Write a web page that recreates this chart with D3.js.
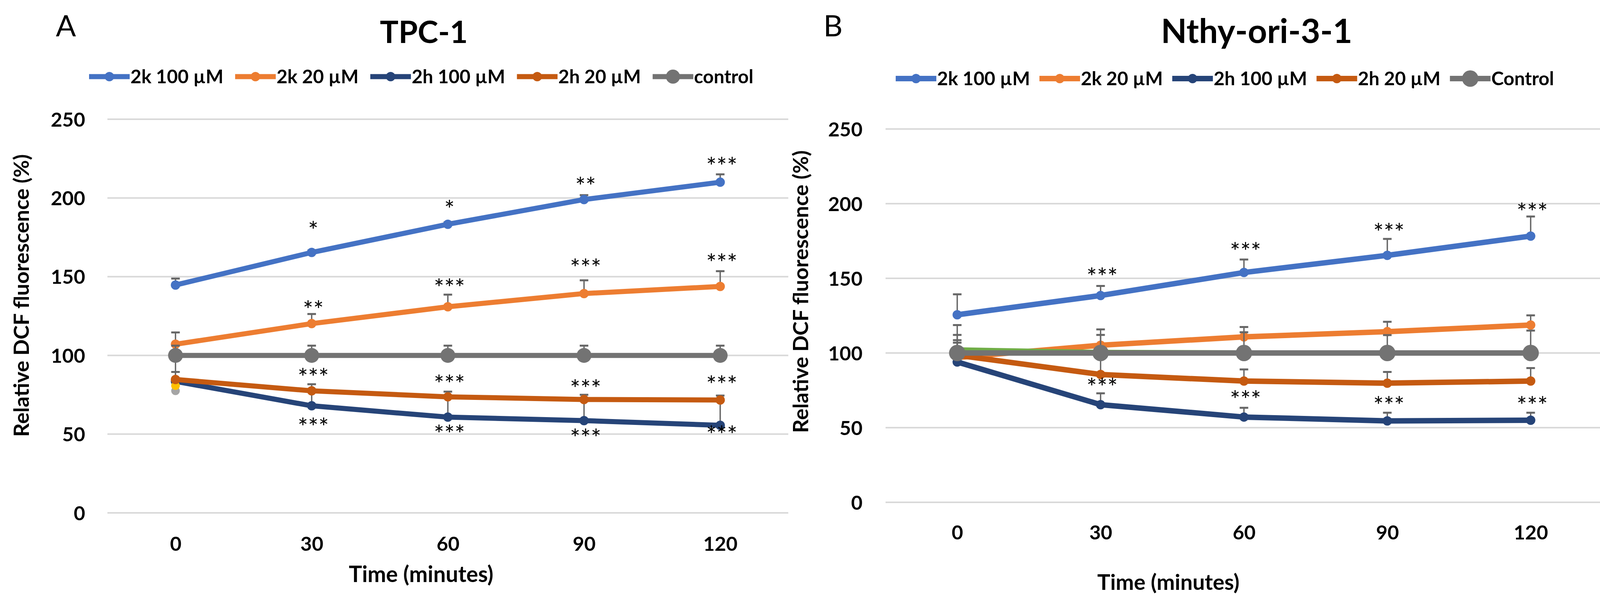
<!DOCTYPE html>
<html>
<head>
<meta charset="utf-8">
<script src="https://cdn.jsdelivr.net/npm/d3@7"></script>
<style>
  body { margin: 0; background: #fff; }
  svg { display: block; font-family: Lato, "Open Sans", sans-serif; }
</style>
</head>
<body>
<svg id="chart" width="4149" height="1540"></svg>
<script>
// ---- data ----
const times = ["0", "30", "60", "90", "120"];
const yTicks = [0, 50, 100, 150, 200, 250];
const namesA = ["2k 100 µM", "2k 20 µM", "2h 100 µM", "2h 20 µM", "control"];
const namesB = ["2k 100 µM", "2k 20 µM", "2h 100 µM", "2h 20 µM", "Control"];

// TPC-1 (mean, upper error)
const tpc2k100 = [144.7, 165.4, 183.3, 199.0, 210.0];
const tpc2k100Sd = [4.1, 1.2, 1.2, 2.8, 5.0];
const tpc2k20 = [107.1, 120.2, 130.9, 139.3, 143.8];
const tpc2k20Sd = [7.5, 6.1, 7.7, 8.4, 9.7];
const tpc2h100 = [83.5, 68.0, 60.8, 58.6, 55.6];
const tpc2h100Sd = [6.0, 10.0, 13.2, 13.9, 16.4];
const tpc2h20 = [84.7, 77.5, 73.7, 72.0, 71.7];
const tpc2h20Sd = [12.3, 4.2, 3.3, 3.0, 2.8];
const tpcControl = [100, 100, 100, 100, 100];
const tpcControlSd = [6.2, 6.2, 6.2, 6.2, 6.2];
const tpcExtraYellow = [80.8, null, null, null, null];
const tpcExtraGrey = [77.5, null, null, null, null];

// Nthy-ori-3-1
const nthy2k100 = [125.6, 138.5, 153.9, 165.4, 178.3];
const nthy2k100Sd = [13.7, 6.4, 8.7, 11.0, 13.1];
const nthy2k20 = [97.0, 105.2, 110.8, 114.3, 118.7];
const nthy2k20Sd = [21.7, 10.6, 6.6, 6.6, 6.5];
const nthy2h100 = [94.0, 65.4, 57.1, 54.5, 55.0];
const nthy2h100Sd = [0, 7.6, 6.2, 5.5, 5.0];
const nthy2h20 = [98.5, 85.6, 81.2, 79.8, 81.2];
const nthy2h20Sd = [13.6, 10.4, 7.8, 7.5, 8.7];
const nthyExtraGreen = [102, 100.3, 100, 100, 100];
const nthyExtraGreenSd = [6.6, 0, 0, 0, 0];
const nthyControl = [100, 100, 100, 100, 100];
const nthyControlSd = [6.9, 12.1, 13.9, 12.0, 15.0];

// significance marks: [time, level of mark centre, text]
const tpcStars = [
  ["30", 180.0, "*"], ["60", 193.4, "*"], ["90", 208.0, "**"], ["120", 220.7, "***"],
  ["30", 129.7, "**"], ["60", 143.5, "***"], ["90", 156.3, "***"], ["120", 159.4, "***"],
  ["30", 86.6, "***"], ["60", 82.4, "***"], ["90", 79.4, "***"], ["120", 81.9, "***"],
  ["30", 55.1, "***"], ["60", 50.6, "***"], ["90", 48.2, "***"], ["120", 50.1, "***"]
];
const nthyStars = [
  ["30", 151.6, "***"], ["60", 168.6, "***"], ["90", 181.5, "***"], ["120", 195.0, "***"],
  ["30", 77.7, "***"], ["60", 69.4, "***"], ["90", 65.4, "***"], ["120", 65.4, "***"]
];

const colors = {
  k100: "#4472c4", k20: "#ed7d31", h100: "#264478", h20: "#c55a11",
  control: "#737373", yellow: "#ffc000", grey: "#a5a5a5", green: "#70ad47"
};

const svg = d3.select("#chart");
const CAP = 0.7165; // Lato cap height / em

// font size that makes `str` as wide as `target`
function fit(str, weight, target) {
  const t = svg.append("text").attr("font-size", 100).attr("font-weight", weight).text(str);
  const w = t.node().getComputedTextLength();
  t.remove();
  return 100 * target / w;
}

const fsTick = fit("250", 700, 88);
const fsLegend = fit("2k 100 µM", 700, 238);
const fsStar = fit("***", 400, 80);
const fsYLab = fit("Relative DCF fluorescence (%)", 700, 723);

function drawPanel(p) {
  const x = d3.scalePoint().domain(times).range([p.left, p.right]).padding(0.5);
  const y = d3.scaleLinear().domain([0, 250]).range([p.bottom, p.top]);
  const g = svg.append("g");

  // gridlines
  g.append("g").selectAll("line").data(yTicks).join("line")
    .attr("x1", p.left).attr("x2", p.right)
    .attr("y1", d => y(d)).attr("y2", d => y(d))
    .attr("stroke", "#d9d9d9").attr("stroke-width", 4);

  // y tick labels
  const ya = g.append("g").attr("transform", `translate(${p.tickRight},0)`)
    .call(d3.axisLeft(y).tickValues(yTicks).tickSize(0).tickPadding(0));
  ya.select(".domain").remove();
  ya.selectAll("text").attr("font-family", "Lato").attr("font-size", fsTick)
    .attr("font-weight", 700).attr("fill", "#000").attr("dy", CAP / 2 + "em");

  // x tick labels
  const xa = g.append("g").attr("transform", `translate(0,${p.xLabelY})`)
    .call(d3.axisBottom(x).tickSize(0).tickPadding(0));
  xa.select(".domain").remove();
  xa.selectAll("text").attr("font-family", "Lato").attr("font-size", fsTick)
    .attr("font-weight", 700).attr("fill", "#000").attr("y", 0).attr("dy", CAP / 2 + "em");

  // series
  const line = d3.line().defined(d => d != null).x((d, i) => x(times[i])).y(d => y(d));
  p.series.forEach(s => {
    const sg = g.append("g");
    sg.append("path").datum(s.values).attr("d", line).attr("fill", "none")
      .attr("stroke", s.color).attr("stroke-width", p.lineW).attr("stroke-linejoin", "round");
    if (s.sd) {
      const eb = s.values.map((v, i) => ({ t: times[i], v: v, top: v + s.sd[i] })).filter(d => s.sd[times.indexOf(d.t)] > 0);
      sg.selectAll("line.stem").data(eb).join("line").attr("class", "stem")
        .attr("x1", d => x(d.t)).attr("x2", d => x(d.t))
        .attr("y1", d => y(d.v)).attr("y2", d => y(d.top))
        .attr("stroke", "#666").attr("stroke-width", 3.5);
      sg.selectAll("line.cap").data(eb).join("line").attr("class", "cap")
        .attr("x1", d => x(d.t) - 11).attr("x2", d => x(d.t) + 11)
        .attr("y1", d => y(d.top)).attr("y2", d => y(d.top))
        .attr("stroke", "#666").attr("stroke-width", 5);
    }
    sg.selectAll("circle").data(s.values.map((v, i) => ({ t: times[i], v: v })).filter(d => d.v != null))
      .join("circle").attr("cx", d => x(d.t)).attr("cy", d => y(d.v))
      .attr("r", s.r).attr("fill", s.color);
  });

  // significance marks
  g.append("g").selectAll("text").data(p.stars).join("text")
    .attr("x", d => x(d[0]) + 4).attr("y", d => y(d[1]) + fsStar * 0.40)
    .attr("text-anchor", "middle").attr("font-size", fsStar).attr("fill", "#000")
    .text(d => d[2]);

  // legend
  let lx = p.legendX;
  p.legend.forEach(item => {
    const lg = g.append("g");
    lg.append("line").attr("x1", lx).attr("x2", lx + 104)
      .attr("y1", p.legendY).attr("y2", p.legendY)
      .attr("stroke", item.color).attr("stroke-width", p.lineW);
    lg.append("circle").attr("cx", lx + 52).attr("cy", p.legendY).attr("r", item.r + 1).attr("fill", item.color);
    const t = lg.append("text").attr("x", lx + 106).attr("y", p.legendY + fsLegend * CAP / 2)
      .attr("font-size", fsLegend).attr("font-weight", 700).attr("fill", "#000").text(item.name);
    lx += 106 + t.node().getComputedTextLength() + p.legendGap;
  });

  // titles
  g.append("text").attr("x", p.titleX).attr("y", 110).attr("text-anchor", "middle")
    .attr("font-size", fit(p.title, 700, p.titleW)).attr("font-weight", 700).text(p.title);
  g.append("text").attr("x", p.letterX).attr("y", 93).attr("font-size", 76).text(p.letter);
  g.append("text").attr("x", p.xTitleX).attr("y", p.xTitleY).attr("text-anchor", "middle")
    .attr("font-size", fit("Time (minutes)", 700, p.xTitleW)).attr("font-weight", 700).text("Time (minutes)");
  g.append("text").attr("transform", `translate(${p.yTitleX},${p.yTitleY}) rotate(-90)`)
    .attr("text-anchor", "middle").attr("dy", CAP / 2 + "em")
    .attr("font-size", fsYLab).attr("font-weight", 700).text("Relative DCF fluorescence (%)");
}

drawPanel({
  left: 275, right: 2018, top: 305, bottom: 1312, tickRight: 218, xLabelY: 1391, lineW: 13,
  legendX: 228, legendY: 196, legendGap: 30,
  title: "TPC-1", titleX: 1085, titleW: 225, letter: "A", letterX: 143,
  xTitleX: 1078, xTitleY: 1489, xTitleW: 370, yTitleX: 55, yTitleY: 756,
  stars: tpcStars,
  series: [
    { values: tpc2k100, sd: tpc2k100Sd, color: colors.k100, r: 12 },
    { values: tpc2k20, sd: tpc2k20Sd, color: colors.k20, r: 12 },
    { values: tpc2h100, sd: tpc2h100Sd, color: colors.h100, r: 12 },
    { values: tpcExtraGrey, color: colors.grey, r: 11 },
    { values: tpcExtraYellow, color: colors.yellow, r: 11 },
    { values: tpc2h20, sd: tpc2h20Sd, color: colors.h20, r: 12 },
    { values: tpcControl, sd: tpcControlSd, color: colors.control, r: 19 }
  ],
  legend: namesA.map((n, i) => ({ name: n, color: [colors.k100, colors.k20, colors.h100, colors.h20, colors.control][i], r: i === 4 ? 17 : 11 }))
});

drawPanel({
  left: 2267, right: 4102, top: 330, bottom: 1285, tickRight: 2208, xLabelY: 1362, lineW: 14,
  legendX: 2293, legendY: 201, legendGap: 24,
  title: "Nthy-ori-3-1", titleX: 3217, titleW: 490, letter: "B", letterX: 2108,
  xTitleX: 2991, xTitleY: 1509, xTitleW: 364, yTitleX: 2050, yTitleY: 746,
  stars: nthyStars,
  series: [
    { values: nthy2k100, sd: nthy2k100Sd, color: colors.k100, r: 12 },
    { values: nthy2k20, sd: nthy2k20Sd, color: colors.k20, r: 12 },
    { values: nthy2h100, sd: nthy2h100Sd, color: colors.h100, r: 12 },
    { values: nthy2h20, sd: nthy2h20Sd, color: colors.h20, r: 12 },
    { values: nthyExtraGreen, sd: nthyExtraGreenSd, color: colors.green, r: 12 },
    { values: nthyControl, sd: nthyControlSd, color: colors.control, r: 21 }
  ],
  legend: namesB.map((n, i) => ({ name: n, color: [colors.k100, colors.k20, colors.h100, colors.h20, colors.control][i], r: i === 4 ? 20 : 11 }))
});
</script>
</body>
</html>
